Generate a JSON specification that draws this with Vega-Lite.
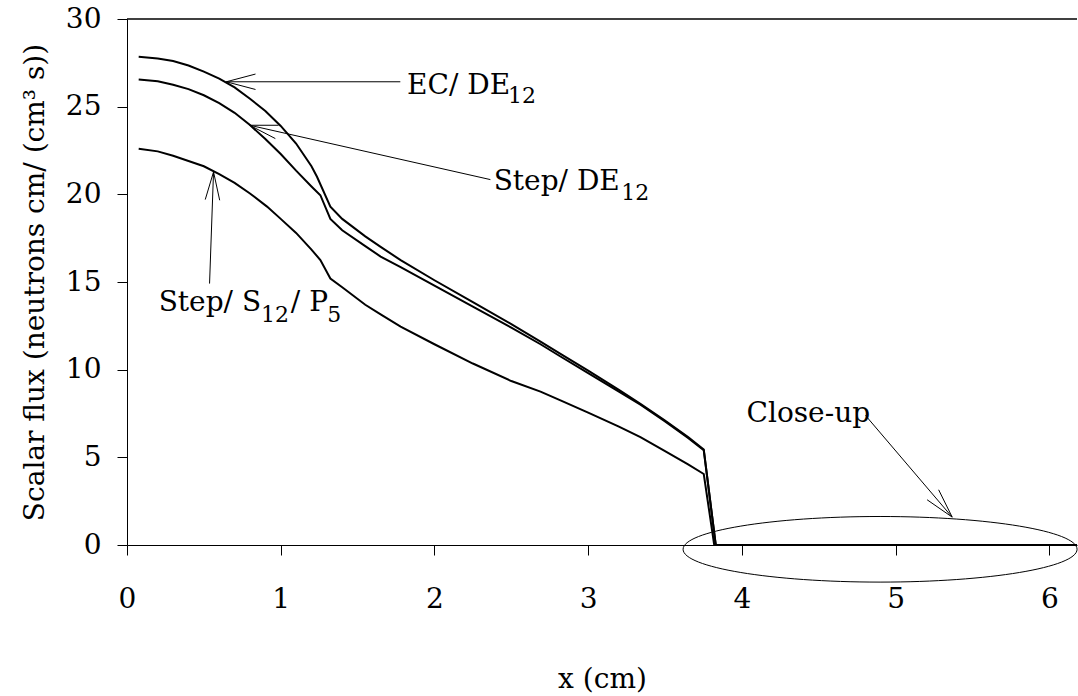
{
  "$schema": "https://vega.github.io/schema/vega-lite/v6.json",
  "width": 950,
  "height": 526,
  "autosize": {"type": "none"},
  "padding": {"left": 127, "top": 19, "right": 1, "bottom": 151},
  "background": "white",
  "config": {
    "view": {"stroke": null},
    "font": "DejaVu Serif",
    "axis": {
      "domainColor": "black", "tickColor": "black", "labelColor": "black", "titleColor": "black",
      "labelFont": "DejaVu Serif", "titleFont": "DejaVu Serif",
      "labelFontSize": 28, "titleFontSize": 28, "titleFontWeight": "normal",
      "grid": false, "tickSize": 10, "domainWidth": 1, "tickWidth": 1
    }
  },
  "datasets": {
    "curves": [
      {"s": "EC", "x": 0.076, "y": 27.85}, {"s": "EC", "x": 0.2, "y": 27.75}, {"s": "EC", "x": 0.3, "y": 27.6},
      {"s": "EC", "x": 0.4, "y": 27.35}, {"s": "EC", "x": 0.5, "y": 27.0}, {"s": "EC", "x": 0.6, "y": 26.6},
      {"s": "EC", "x": 0.7, "y": 26.1}, {"s": "EC", "x": 0.8, "y": 25.45}, {"s": "EC", "x": 0.9, "y": 24.75},
      {"s": "EC", "x": 1.0, "y": 23.9}, {"s": "EC", "x": 1.1, "y": 22.9}, {"s": "EC", "x": 1.2, "y": 21.6},
      {"s": "EC", "x": 1.236, "y": 21.0},
      {"s": "EC", "x": 1.323, "y": 19.3}, {"s": "EC", "x": 1.4, "y": 18.6}, {"s": "EC", "x": 1.55, "y": 17.6},
      {"s": "EC", "x": 1.65, "y": 17.0}, {"s": "EC", "x": 1.78, "y": 16.25}, {"s": "EC", "x": 2.0, "y": 15.1},
      {"s": "EC", "x": 2.25, "y": 13.85}, {"s": "EC", "x": 2.5, "y": 12.6}, {"s": "EC", "x": 2.69, "y": 11.6},
      {"s": "EC", "x": 2.82, "y": 10.9}, {"s": "EC", "x": 3.0, "y": 9.95}, {"s": "EC", "x": 3.2, "y": 8.85},
      {"s": "EC", "x": 3.34, "y": 8.05}, {"s": "EC", "x": 3.5, "y": 7.1}, {"s": "EC", "x": 3.65, "y": 6.15},
      {"s": "EC", "x": 3.752, "y": 5.45}, {"s": "EC", "x": 3.83, "y": 0}, {"s": "EC", "x": 4.5, "y": 0},
      {"s": "EC", "x": 5.5, "y": 0}, {"s": "EC", "x": 6.18, "y": 0},
      {"s": "SD", "x": 0.076, "y": 26.55}, {"s": "SD", "x": 0.2, "y": 26.45}, {"s": "SD", "x": 0.3, "y": 26.25},
      {"s": "SD", "x": 0.4, "y": 26.0}, {"s": "SD", "x": 0.5, "y": 25.65}, {"s": "SD", "x": 0.6, "y": 25.2},
      {"s": "SD", "x": 0.7, "y": 24.65}, {"s": "SD", "x": 0.8, "y": 23.95}, {"s": "SD", "x": 0.9, "y": 23.15},
      {"s": "SD", "x": 1.0, "y": 22.3}, {"s": "SD", "x": 1.1, "y": 21.35}, {"s": "SD", "x": 1.2, "y": 20.45},
      {"s": "SD", "x": 1.258, "y": 19.95},
      {"s": "SD", "x": 1.323, "y": 18.6}, {"s": "SD", "x": 1.4, "y": 17.95}, {"s": "SD", "x": 1.55, "y": 17.05},
      {"s": "SD", "x": 1.65, "y": 16.45}, {"s": "SD", "x": 1.78, "y": 15.85}, {"s": "SD", "x": 2.0, "y": 14.8},
      {"s": "SD", "x": 2.25, "y": 13.6}, {"s": "SD", "x": 2.5, "y": 12.4}, {"s": "SD", "x": 2.69, "y": 11.45},
      {"s": "SD", "x": 2.82, "y": 10.75}, {"s": "SD", "x": 3.0, "y": 9.8}, {"s": "SD", "x": 3.2, "y": 8.75},
      {"s": "SD", "x": 3.34, "y": 8.0}, {"s": "SD", "x": 3.5, "y": 7.05}, {"s": "SD", "x": 3.65, "y": 6.1},
      {"s": "SD", "x": 3.752, "y": 5.4}, {"s": "SD", "x": 3.83, "y": 0}, {"s": "SD", "x": 4.5, "y": 0},
      {"s": "SD", "x": 5.5, "y": 0}, {"s": "SD", "x": 6.18, "y": 0},
      {"s": "SP", "x": 0.076, "y": 22.6}, {"s": "SP", "x": 0.2, "y": 22.45}, {"s": "SP", "x": 0.3, "y": 22.2},
      {"s": "SP", "x": 0.4, "y": 21.9}, {"s": "SP", "x": 0.5, "y": 21.6}, {"s": "SP", "x": 0.6, "y": 21.15},
      {"s": "SP", "x": 0.7, "y": 20.65}, {"s": "SP", "x": 0.8, "y": 20.05}, {"s": "SP", "x": 0.911, "y": 19.3},
      {"s": "SP", "x": 1.0, "y": 18.6}, {"s": "SP", "x": 1.1, "y": 17.8}, {"s": "SP", "x": 1.2, "y": 16.85},
      {"s": "SP", "x": 1.258, "y": 16.25}, {"s": "SP", "x": 1.323, "y": 15.2},
      {"s": "SP", "x": 1.4, "y": 14.7}, {"s": "SP", "x": 1.55, "y": 13.7}, {"s": "SP", "x": 1.65, "y": 13.15},
      {"s": "SP", "x": 1.78, "y": 12.45}, {"s": "SP", "x": 2.0, "y": 11.45}, {"s": "SP", "x": 2.25, "y": 10.35},
      {"s": "SP", "x": 2.5, "y": 9.35}, {"s": "SP", "x": 2.69, "y": 8.75}, {"s": "SP", "x": 2.82, "y": 8.25},
      {"s": "SP", "x": 3.0, "y": 7.55}, {"s": "SP", "x": 3.2, "y": 6.75}, {"s": "SP", "x": 3.34, "y": 6.15},
      {"s": "SP", "x": 3.5, "y": 5.35}, {"s": "SP", "x": 3.65, "y": 4.6}, {"s": "SP", "x": 3.752, "y": 4.05},
      {"s": "SP", "x": 3.82, "y": 0}, {"s": "SP", "x": 4.5, "y": 0}, {"s": "SP", "x": 5.5, "y": 0},
      {"s": "SP", "x": 6.18, "y": 0}
    ],
    "arrows": [
      {"x": 0.646, "y": 26.42, "x2": 1.778, "y2": 26.42},
      {"x": 0.646, "y": 26.42, "x2": 0.836, "y2": 26.86},
      {"x": 0.646, "y": 26.42, "x2": 0.836, "y2": 25.98},
      {"x": 0.798, "y": 23.94, "x2": 2.364, "y2": 20.84},
      {"x": 0.798, "y": 23.94, "x2": 0.986, "y2": 23.94},
      {"x": 0.798, "y": 23.94, "x2": 0.965, "y2": 23.18},
      {"x": 0.563, "y": 21.28, "x2": 0.537, "y2": 14.91},
      {"x": 0.563, "y": 21.28, "x2": 0.509, "y2": 19.7},
      {"x": 0.563, "y": 21.28, "x2": 0.603, "y2": 19.66},
      {"x": 4.804, "y": 7.39, "x2": 5.368, "y2": 1.59},
      {"x": 5.368, "y": 1.59, "x2": 5.28, "y2": 3.15},
      {"x": 5.368, "y": 1.59, "x2": 5.205, "y2": 2.58}
    ],
    "labels": [
      {"t": "EC/ DE", "x": 1.822, "y": 25.75},
      {"t": "Step/ DE", "x": 2.385, "y": 20.23},
      {"t": "Step/ S", "x": 0.206, "y": 13.34},
      {"t": "/ P", "x": 1.066, "y": 13.34},
      {"t": "Close-up", "x": 4.03, "y": 7.01}
    ],
    "subs": [
      {"t": "12", "x": 2.478, "y": 25.22},
      {"t": "12", "x": 3.215, "y": 19.66},
      {"t": "12", "x": 0.872, "y": 12.72},
      {"t": "5", "x": 1.303, "y": 12.72}
    ],
    "ellipse": [{"x": 4.899, "y": -0.245}],
    "border": [{"y": 30}]
  },
  "layer": [
    {
      "data": {"name": "curves"},
      "mark": {"type": "line", "color": "black", "strokeWidth": 2},
      "encoding": {
        "x": {"field": "x", "type": "quantitative",
              "scale": {"domain": [0, 6.18], "nice": false, "zero": false},
              "axis": {"title": "x (cm)", "values": [0, 1, 2, 3, 4, 5, 6], "format": "d", "labelPadding": 30,
                       "titleY": 142, "titleBaseline": "alphabetic", "labelFlush": false}},
        "y": {"field": "y", "type": "quantitative",
              "scale": {"domain": [0, 30], "nice": false},
              "axis": {"title": "Scalar flux (neutrons cm/ (cm³ s))", "values": [0, 5, 10, 15, 20, 25, 30], "format": "d",
                       "labelPadding": 16, "titleX": -84, "titleY": 263, "titleAngle": -90,
                       "titleAlign": "center", "titleBaseline": "alphabetic", "labelFlush": false}},
        "detail": {"field": "s"}
      }
    },
    {
      "data": {"name": "border"},
      "mark": {"type": "rule", "color": "black", "strokeWidth": 1.5},
      "encoding": {"y": {"field": "y", "type": "quantitative"}}
    },
    {
      "data": {"name": "arrows"},
      "mark": {"type": "rule", "color": "black", "strokeWidth": 1},
      "encoding": {
        "x": {"field": "x", "type": "quantitative"},
        "y": {"field": "y", "type": "quantitative"},
        "x2": {"field": "x2"},
        "y2": {"field": "y2"}
      }
    },
    {
      "data": {"name": "labels"},
      "mark": {"type": "text", "font": "DejaVu Serif", "fontSize": 28, "align": "left", "baseline": "alphabetic", "color": "black"},
      "encoding": {
        "x": {"field": "x", "type": "quantitative"},
        "y": {"field": "y", "type": "quantitative"},
        "text": {"field": "t"}
      }
    },
    {
      "data": {"name": "subs"},
      "mark": {"type": "text", "font": "DejaVu Serif", "fontSize": 22, "align": "left", "baseline": "alphabetic", "color": "black"},
      "encoding": {
        "x": {"field": "x", "type": "quantitative"},
        "y": {"field": "y", "type": "quantitative"},
        "text": {"field": "t"}
      }
    },
    {
      "data": {"name": "ellipse"},
      "mark": {"type": "point", "filled": false, "stroke": "black", "strokeWidth": 1, "opacity": 1, "size": 155236,
               "shape": "M -1 0 C -1 -0.092 -0.5523 -0.1665 0 -0.1665 C 0.5523 -0.1665 1 -0.092 1 0 C 1 0.092 0.5523 0.1665 0 0.1665 C -0.5523 0.1665 -1 0.092 -1 0 Z"},
      "encoding": {
        "x": {"field": "x", "type": "quantitative"},
        "y": {"field": "y", "type": "quantitative"}
      }
    }
  ]
}
